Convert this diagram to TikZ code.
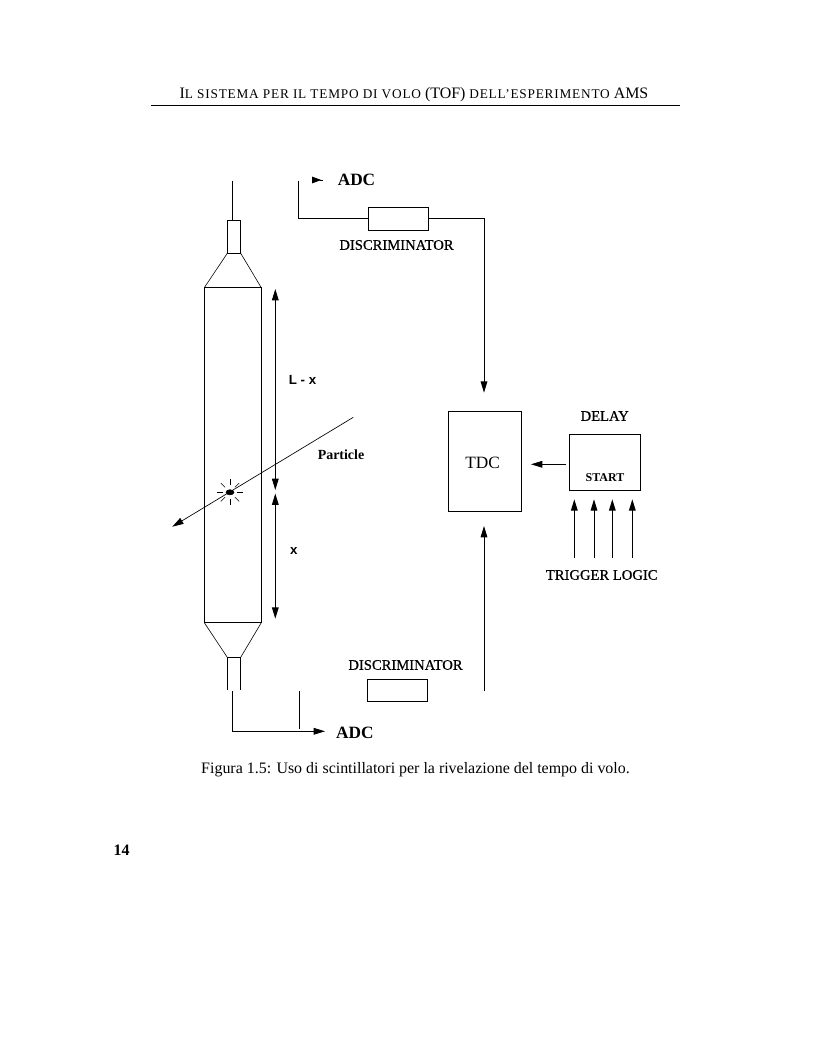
\documentclass[tikz,border=0pt]{standalone}
\usepackage{fontspec}
\setmainfont{Liberation Serif}
\newfontfamily\labelsans{Liberation Sans}
\newfontfamily\labelserif[FakeBold=0.6]{Liberation Serif}
\newfontfamily\headfont[LetterSpace=6]{Liberation Serif}
\usetikzlibrary{arrows.meta}
\tikzset{
	wire/.style={line width=0.7pt},
	thinwire/.style={line width=0.45pt},
	tipped/.style={wire, -{Triangle[length=8.5pt,width=5pt]}},
	twotipped/.style={wire, {Triangle[length=8.5pt,width=5pt]}-{Triangle[length=8.5pt,width=5pt]}},
	device/.style={draw, wire, inner sep=0pt, minimum width=#1},
	drawing/.style={font=\labelserif\fontsize{11}{12}\selectfont, inner sep=0pt},
	sanslabel/.style={font=\labelsans\bfseries\fontsize{10}{11}\selectfont, inner sep=0pt},
	bigadc/.style={font=\fontsize{13}{15}\selectfont\bfseries, inner sep=0pt},
	page/.style={inner sep=0pt}
}
\def\headcaps#1{{\headfont\fontsize{10}{12}\selectfont #1}}

\begin{document}
\begin{tikzpicture}[x=0.75bp, y=-0.75bp]
			%%%%% START %%%%%
			\useasboundingbox (0, 0) rectangle (816, 1056);

			% page text
			\node[page, font=\fontsize{12}{14}\selectfont] (header) at (414, 95) {I\headcaps{L SISTEMA PER IL TEMPO DI VOLO} (TOF) \headcaps{DELL’ESPERIMENTO} AMS};
			\draw[line width=0.6pt] (151, 105.5) -- (680, 105.5);
			\node[page, font=\fontsize{12}{14}\selectfont] (caption) at (415.5, 770) {Figura 1.5: Uso di scintillatori per la rivelazione del tempo di volo.};
			\node[page, font=\fontsize{12}{14}\selectfont\bfseries] (folio) at (121.5, 850) {14};

			% scintillator
			\draw[wire] (232.3, 181) -- (232.3, 220.3);
			\draw[wire] (227.3, 220.3) rectangle (240.7, 253.3);
			\draw[thinwire] (227.3, 253.3) -- (204.3, 287.7);
			\draw[thinwire] (240.7, 253.3) -- (261.3, 287.7);
			\draw[wire] (204.3, 287.7) rectangle (261.3, 622.7);
			\draw[thinwire] (204.3, 622.7) -- (227.3, 657.3);
			\draw[thinwire] (261.3, 622.7) -- (240.7, 657.3);
			\draw[wire] (227.3, 690.3) -- (227.3, 657.3) -- (240.7, 657.3) -- (240.7, 690.3);

			% particle and flash
			\draw[tipped, line width=0.5pt] (353.3, 417.3) -- (172.3, 526.7);
			\draw[fill=black] (230, 492.3) ellipse (4 and 2.6);
			\foreach \ang in {0, 45, ..., 315}
				\draw[thinwire] (230, 492.3) ++(\ang:7) -- ++(\ang:6);

			% lengths
			\draw[twotipped] (275.3, 289) -- (275.3, 490);
			\draw[twotipped] (275.3, 493.5) -- (275.3, 618.7);
			\node[sanslabel] (lenup) at (302.5, 379.5) {L - x};
			\node[sanslabel] (lendown) at (293.7, 550.7) {x};
			\node[drawing, font=\fontsize{10.5}{12}\selectfont\bfseries] (particle) at (341, 455) {Particle};

			% upper channel
			\node[device=45.3bp, minimum height=17.25bp] (discup) at (398.5, 218.8) {};
			\node[drawing] (discuplabel) at (396.5, 245) {DISCRIMINATOR};
			\node[bigadc] (adcup) at (356.5, 180) {ADC};
			\coordinate (adcupend) at (298.3, 181);
			\coordinate (adcupturn) at (298.3, 218.3);
			\coordinate (tdcupturn) at (484, 218.3);
			\coordinate (tdcuptip) at (484, 392.7);
			\coordinate (adcupstub) at (312, 180);
			\coordinate (adcupstubtip) at (323.3, 180);
			\draw[wire] (adcupend) -- (adcupturn) -- (discup.west |- adcupturn);
			\draw[wire] (discup.east |- tdcupturn) -- (tdcupturn);
			\draw[tipped] (tdcupturn) -- (tdcuptip);
			\draw[wire, {Triangle[reversed,length=7pt,width=5pt]}-] (adcupstub) -- (adcupstubtip);

			% lower channel
			\node[device=45bp, minimum height=16.5bp] (discdown) at (397.3, 690.3) {};
			\node[drawing] (discdownlabel) at (405.5, 665) {DISCRIMINATOR};
			\node[bigadc] (adcdown) at (354.8, 732.7) {ADC};
			\coordinate (adcdownstart) at (232.3, 691);
			\coordinate (adcdownturn) at (232.3, 731.3);
			\coordinate (adcdowntip) at (325, 731.3);
			\draw[tipped] (adcdownstart) -- (adcdownturn) -- (adcdowntip);
			\draw[wire] (299.3, 691) -- (299.3, 729);

			% tdc and delay
			\node[device=55bp, minimum height=75bp] (tdc) at (485, 461.3) {};
			\node[page, font=\fontsize{13}{15}\selectfont] (tdclabel) at (482.7, 463) {TDC};
			\node[device=53.5bp, minimum height=42bp] (delay) at (605, 462.3) {};
			\node[drawing] (delaylabel) at (604.7, 416) {DELAY};
			\node[drawing, font=\fontsize{9}{11}\selectfont\bfseries] (start) at (605, 478) {START};
			\node[drawing] (trigger) at (601.7, 575) {TRIGGER LOGIC};
			\coordinate (delayout) at (566, 464.3);
			\coordinate (tdcin) at (531, 464.3);
			\draw[tipped] (delayout) -- (tdcin);
			\coordinate (tdcdownstart) at (484, 691);
			\coordinate (tdcdowntip) at (484, 526);
			\draw[tipped] (tdcdownstart) -- (tdcdowntip);
			\foreach \xpos in {574.3, 594, 612.3, 632.3}
				\draw[tipped] (\xpos, 557.7) -- (\xpos, 499.3);
			%%%%% END %%%%%
		\end{tikzpicture}
\end{document}
